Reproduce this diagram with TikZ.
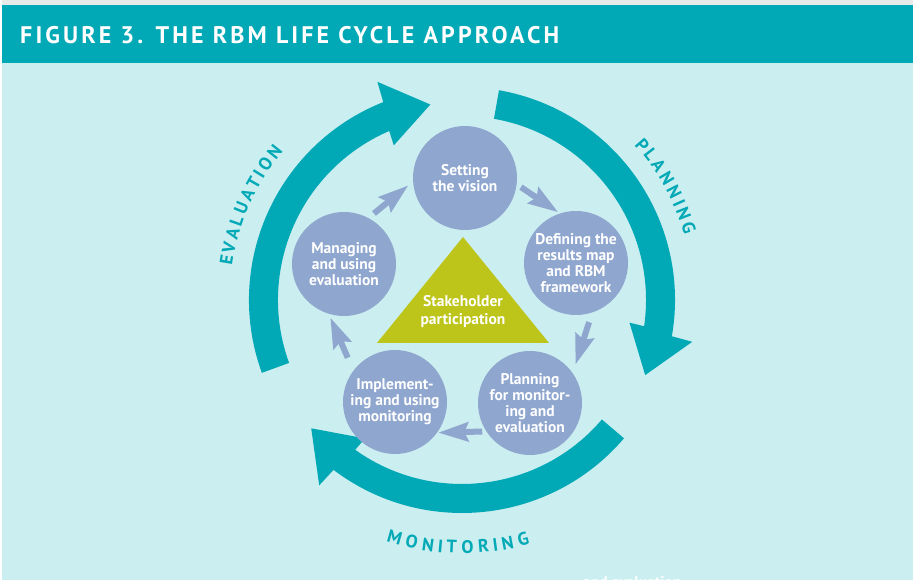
\documentclass[tikz,border=0pt]{standalone}
\usepackage{fontspec}
\setmainfont{PT Sans}
\usetikzlibrary{arrows.meta,calc}
\definecolor{tealA}{RGB}{0,169,181}
\definecolor{bgA}{RGB}{203,238,240}
\definecolor{circA}{RGB}{143,166,207}
\definecolor{oliveA}{RGB}{190,197,26}
\definecolor{topA}{RGB}{232,234,234}
\newcommand{\bigarc}[2]{%
  \fill[tealA] (#1:213) arc[start angle=#1, end angle={#2-0.8}, radius=213]
    -- ({#2-1.3}:234) -- ({#2-13.3}:198) -- ({#2+1.3}:169) -- ({#2+0.8}:184)
    arc[start angle={#2+0.8}, end angle=#1, radius=184] -- cycle;}
\begin{document}
\begin{tikzpicture}[x=1pt,y=1pt,
  stepcirc/.style={circle, fill=circA, minimum size=104pt, inner sep=0pt, text=white, align=center,
    font=\bfseries\fontsize{15.5}{16}\selectfont},
  smallarr/.style={draw=circA, line width=6pt, -{Stealth[length=30pt, width=19pt, inset=4pt]}},
  arclab/.style={text=tealA, font=\bfseries\fontsize{18}{18}\selectfont, inner sep=0pt}]
\useasboundingbox (0,0) rectangle (913,580);
\begin{scope}
\clip (0,0) rectangle (913,580);
\fill[white] (0,0) rectangle (913,580);
\fill[topA] (2,575) rectangle (913,580);
\fill[tealA] (2,517) rectangle (913,575);
\fill[bgA] (2,0) rectangle (913,517);
\node[anchor=base west, text=white, inner sep=0pt,
  font=\bfseries\fontsize{24}{24}\selectfont\addfontfeatures{LetterSpace=13}] (title) at (20,536.5)
  {FIGURE 3. THE RBM LIFE CYCLE APPROACH};

% big cycle arrows
\begin{scope}[shift={(462,280)}]
  \bigarc{80}{-9}
  \bigarc{200}{112.5}
  \bigarc{-40.5}{-126.3}
  \foreach \ch/\a [count=\i] in {E/0, V/3.12, A/6.53, L/9.71, U/12.95, A/16.48, T/19.78, I/22.24, O/25.05, N/28.77}
    \node[arclab, rotate={170.4-\a-90}] (ev\i) at ({170.4-\a}:239) {\ch};
  \foreach \ch/\a [count=\i] in {P/0, L/3.11, A/6.41, N/10.06, N/13.78, I/16.59, N/19.40, G/23.11}
    \node[arclab, rotate={40.7-\a-90}] (pl\i) at ({40.7-\a}:238) {\ch};
  \foreach \ch/\a [count=\i] in {M/0, O/4.08, N/7.93, I/10.80, T/13.43, O/17.05, R/20.78, I/23.53, N/26.40, G/30.13}
    \node[arclab, rotate={254.2+\a+90}] (mo\i) at ({254.2+\a}:247) {\ch};
\end{scope}

% triangle
\fill[oliveA] (377,237) -- (549,237) -- (463,343) -- cycle;
\node[text=white, align=center, font=\bfseries\fontsize{15.5}{17.5}\selectfont] (stake) at (463,268.5)
  {Stakeholder\\participation};

% circles
\node[stepcirc] (setting) at (465,402) {Setting\\the vision};
\node[stepcirc] (defining) at (576,317) {Defining the\\results map\\and RBM\\framework};
\node[stepcirc] (planning) at (530,177) {Planning\\for monitor-\\ing and\\evaluation};
\node[stepcirc] (implement) at (395,178) {Implement-\\ing and using\\monitoring};
\node[stepcirc] (manage) at (344,316) {Managing\\and using\\evaluation};

% small arrows
\draw[smallarr, shorten <=7pt, shorten >=6pt] (manage.62) -- (setting.184);
\draw[smallarr, shorten <=5pt, shorten >=2pt] (setting.-7) -- (defining.108);
\draw[smallarr, shorten <=10pt, shorten >=9pt] (defining.-72) -- (planning.35);
\draw[smallarr, shorten <=4pt, shorten >=1pt] (planning.213) -- (implement.-36);
\draw[smallarr, shorten <=14pt, shorten >=4pt] (implement.143) -- (manage.253);

% cut-off text at the bottom
\node[anchor=base west, text=white, inner sep=0pt, font=\bfseries\fontsize{15.5}{16}\selectfont] (cut) at (583,-8) {and evaluation};
\end{scope}
\end{tikzpicture}
\end{document}
